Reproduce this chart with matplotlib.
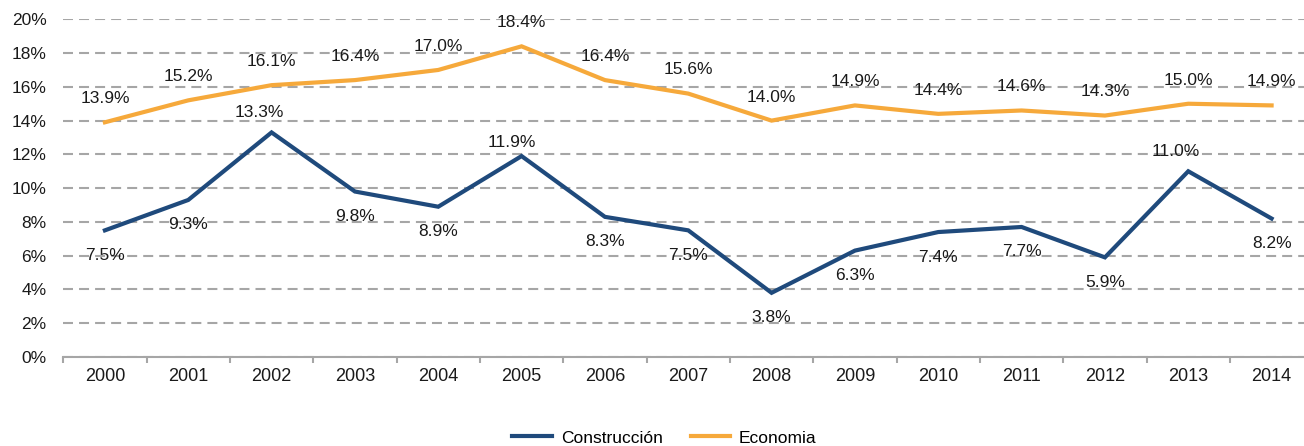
import matplotlib.pyplot as plt
from matplotlib.ticker import FuncFormatter

plt.rcParams['font.family'] = ['Liberation Sans', 'DejaVu Sans']

years = [str(y) for y in range(2000, 2015)]
construccion = [7.5, 9.3, 13.3, 9.8, 8.9, 11.9, 8.3, 7.5, 3.8, 6.3, 7.4, 7.7, 5.9, 11.0, 8.2]
economia = [13.9, 15.2, 16.1, 16.4, 17.0, 18.4, 16.4, 15.6, 14.0, 14.9, 14.4, 14.6, 14.3, 15.0, 14.9]

# label offsets (points) for the Construcción series, as placed in the original
cons_dx = [0, 0, -9, 0, 0, -7, 0, 0, 0, 0, 0, 0, 0, -9, 0]
cons_dy = [-18, -18, 14, -18, -18, 9.5, -18, -18, -18, -18, -18, -18, -18, 14, -18]

blue = '#1F4A7C'
orange = '#F6A93B'
grid_c = '#A6A6A6'

fig = plt.figure(figsize=(13.04, 4.46), dpi=100)
# plot area runs slightly past the right edge, like the source
ax = fig.add_axes([0.0485, 0.1996, 0.9586, 0.7571])

x = list(range(len(years)))
ax.plot(x, construccion, color=blue, lw=3, label='Construcción', solid_joinstyle='miter')
ax.plot(x, economia, color=orange, lw=3, label='Economia', solid_joinstyle='miter')

for i, v in enumerate(economia):
    ax.annotate(f'{v:.1f}%', (i, v), xytext=(0, 17), textcoords='offset points',
                ha='center', va='center', fontsize=12.5, color='#1a1a1a')
for i, v in enumerate(construccion):
    ax.annotate(f'{v:.1f}%', (i, v), xytext=(cons_dx[i], cons_dy[i]), textcoords='offset points',
                ha='center', va='center', fontsize=12.5, color='#1a1a1a')

ax.set_xlim(-0.5, len(years) - 0.5)
ax.set_ylim(0, 20)
ax.set_yticks(range(0, 21, 2))
ax.yaxis.set_major_formatter(FuncFormatter(lambda v, p: f'{v:.0f}%'))
ax.set_xticks(x)
ax.set_xticklabels(years)
ax.set_xticks([i - 0.5 for i in range(len(years) + 1)], minor=True)

ax.tick_params(axis='y', length=0, pad=12, labelsize=12.5, labelcolor='#1a1a1a')
ax.tick_params(axis='x', which='major', length=0, pad=8, labelsize=13, labelcolor='#1a1a1a')
ax.tick_params(axis='x', which='minor', length=4, width=1.5, color=grid_c, direction='out')

ax.grid(axis='y', color=grid_c, lw=1.5, linestyle=(0, (4.8, 2.9)))
ax.set_axisbelow(True)
for s in ['top', 'right', 'left']:
    ax.spines[s].set_visible(False)
ax.spines['bottom'].set_color(grid_c)
ax.spines['bottom'].set_linewidth(1.5)

fig.legend(loc='center', bbox_to_anchor=(664.5 / 1304, 1 - 438 / 446), ncol=2, frameon=False,
           fontsize=12.5, handlelength=2.3, columnspacing=1.6, handletextpad=0.5)

fig.savefig('out.png', dpi=100)
